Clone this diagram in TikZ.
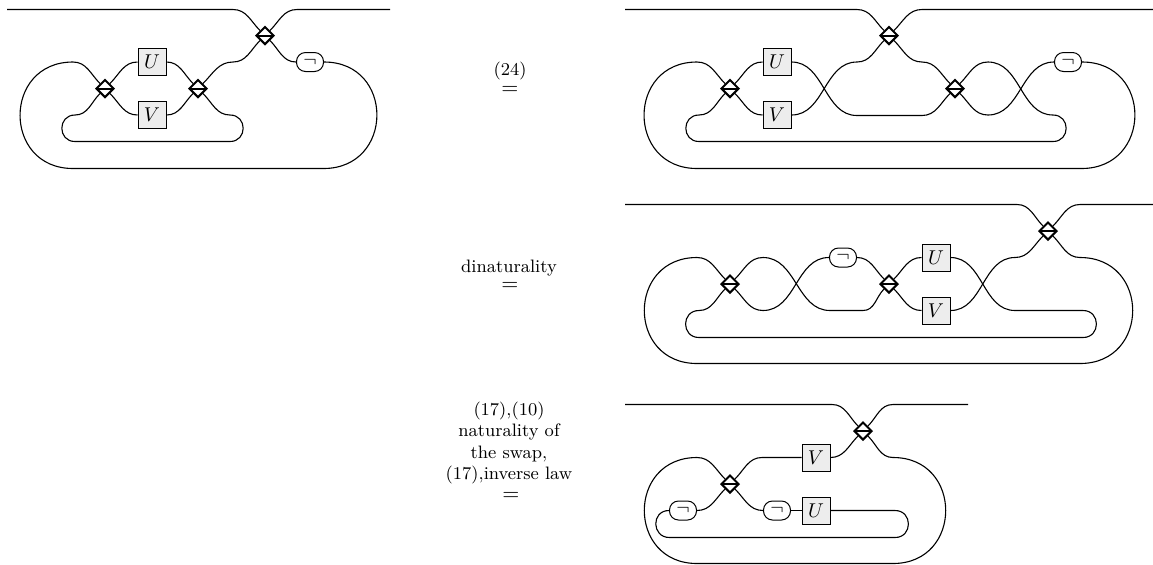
\documentclass[tikz,border=0pt]{standalone}
\usetikzlibrary{shapes.geometric}
\tikzset{
  wire/.style={line width=0.55pt},
  dia/.style={diamond, draw, fill=white, line width=1pt, minimum width=9pt, minimum height=9pt, inner sep=0pt,
    path picture={\draw[line width=1pt] (path picture bounding box.west) -- (path picture bounding box.east);}},
  gbox/.style={draw, fill=black!7, line width=0.5pt, minimum width=14pt, minimum height=13.5pt, inner sep=0pt, font=\fontsize{10}{12}\selectfont},
  negn/.style={draw, fill=white, line width=0.5pt, rounded corners=4.5pt, minimum width=13.5pt, minimum height=9.5pt, inner sep=0pt, font=\fontsize{10}{12}\selectfont},
  eqn/.style={font=\fontsize{10.5}{12}\selectfont, inner sep=0pt},
  lbl/.style={font=\fontsize{9}{10.8}\selectfont, align=center, inner sep=0pt},
  semi/.style={looseness=1.7}
}
\begin{document}
\begin{tikzpicture}[x=0.5pt,y=0.5pt]
\useasboundingbox (0,0) rectangle (1153,-564);

% ---------------- Diagram 1 ----------------
\node[dia] (a1) at (265,-35.5) {};
\node[dia] (a2) at (105,-88.5) {};
\node[dia] (a3) at (198,-88.5) {};
\node[gbox] (u1) at (152,-62) {$U$};
\node[gbox] (v1) at (152,-115) {$V$};
\node[negn] (n1) at (310,-62) {$\neg$};
\coordinate (a1tl) at (7,-9.5);
\coordinate (a1tm) at (233,-9.5);
\coordinate (a1tr) at (297,-9.5);
\coordinate (a1te) at (390,-9.5);
\coordinate (a1m) at (233,-62);
\coordinate (a1i) at (230,-115);
\coordinate (a1ib) at (230,-141.5);
\coordinate (a1ibl) at (75,-141.5);
\coordinate (a1il) at (75,-115);
\coordinate (a1obr) at (323.5,-168.5);
\coordinate (a1obl) at (73,-168.5);
\coordinate (a1otl) at (73,-62);
\draw[wire] (a1tl) -- (a1tm) to[out=0,in=135] (a1);
\draw[wire] (a1) to[out=45,in=180] (a1tr) -- (a1te);
\draw[wire] (a1) to[out=-45,in=180] (n1.west);
\draw[wire] (n1.east) to[out=0,in=0,semi] (a1obr) -- (a1obl) to[out=180,in=180,semi] (a1otl) to[out=0,in=135] (a2);
\draw[wire] (a2) to[out=45,in=180] (u1.west);
\draw[wire] (a2) to[out=-45,in=180] (v1.west);
\draw[wire] (u1.east) to[out=0,in=135] (a3);
\draw[wire] (v1.east) to[out=0,in=-135] (a3);
\draw[wire] (a3) to[out=45,in=180] (a1m) to[out=0,in=-135] (a1);
\draw[wire] (a3) to[out=-45,in=180] (a1i) to[out=0,in=0,semi] (a1ib) -- (a1ibl) to[out=180,in=180,semi] (a1il) to[out=0,in=-135] (a2);

% ---------------- Diagram 2 ----------------
\node[dia] (b1) at (889,-35.5) {};
\node[dia] (b2) at (730,-88.5) {};
\node[dia] (b3) at (955,-88.5) {};
\node[gbox] (u2) at (777,-62) {$U$};
\node[gbox] (v2) at (777,-115) {$V$};
\node[negn] (n2) at (1068,-62) {$\neg$};
\coordinate (b2tl) at (625,-9.5);
\coordinate (b2tm) at (857,-9.5);
\coordinate (b2tr) at (922,-9.5);
\coordinate (b2te) at (1153,-9.5);
\coordinate (b2m1) at (922,-62);
\coordinate (b2ul) at (857,-115.5);
\coordinate (b2ur) at (922,-115.5);
\coordinate (b2vm) at (857,-62);
\coordinate (b2cu) at (988,-62);
\coordinate (b2cd) at (988,-115);
\coordinate (b2ir) at (1053,-115);
\coordinate (b2irb) at (1053,-141.5);
\coordinate (b2ilb) at (699,-141.5);
\coordinate (b2il) at (699,-115);
\coordinate (b2obr) at (1081.5,-168.5);
\coordinate (b2obl) at (697,-168.5);
\coordinate (b2otl) at (697,-62);
\draw[wire] (b2tl) -- (b2tm) to[out=0,in=135] (b1);
\draw[wire] (b1) to[out=45,in=180] (b2tr) -- (b2te);
\draw[wire] (b1) to[out=-45,in=180] (b2m1) to[out=0,in=135] (b3);
\draw[wire] (b2) to[out=45,in=180] (u2.west);
\draw[wire] (b2) to[out=-45,in=180] (v2.west);
\draw[wire] (u2.east) to[out=0,in=180] (b2ul) -- (b2ur) to[out=0,in=-135] (b3);
\draw[wire] (v2.east) to[out=0,in=180] (b2vm) to[out=0,in=-135] (b1);
\draw[wire] (b3) to[out=45,in=180] (b2cu) to[out=0,in=180] (b2ir) to[out=0,in=0,semi] (b2irb) -- (b2ilb) to[out=180,in=180,semi] (b2il) to[out=0,in=-135] (b2);
\draw[wire] (b3) to[out=-45,in=180] (b2cd) to[out=0,in=180] (n2.west);
\draw[wire] (n2.east) to[out=0,in=0,semi] (b2obr) -- (b2obl) to[out=180,in=180,semi] (b2otl) to[out=0,in=135] (b2);

% ---------------- Diagram 3 ----------------
\node[dia] (c1) at (1048,-231) {};
\node[dia] (c2) at (730,-284) {};
\node[dia] (c3) at (889,-284) {};
\node[negn] (n3) at (843,-257.5) {$\neg$};
\node[gbox] (u3) at (936,-257.5) {$U$};
\node[gbox] (v3) at (936,-310.5) {$V$};
\coordinate (c3tl) at (625,-204.5);
\coordinate (c3tm) at (1017,-204.5);
\coordinate (c3tr) at (1080,-204.5);
\coordinate (c3te) at (1153,-204.5);
\coordinate (c3or) at (1080,-257.5);
\coordinate (c3obr) at (1080,-363.5);
\coordinate (c3obl) at (697,-363.5);
\coordinate (c3otl) at (697,-257.5);
\coordinate (c3a) at (763,-257.5);
\coordinate (c3b) at (830,-310.5);
\coordinate (c3c) at (863,-310.5);
\coordinate (c3d) at (763,-310.5);
\coordinate (c3ui) at (1015,-310.5);
\coordinate (c3ir) at (1083,-310.5);
\coordinate (c3irb) at (1083,-337.5);
\coordinate (c3ilb) at (699,-337.5);
\coordinate (c3il) at (699,-310.5);
\coordinate (c3vm) at (1015,-257.5);
\draw[wire] (c3tl) -- (c3tm) to[out=0,in=135] (c1);
\draw[wire] (c1) to[out=45,in=180] (c3tr) -- (c3te);
\draw[wire] (c1) to[out=-45,in=180] (c3or) to[out=0,in=0,semi] (c3obr) -- (c3obl) to[out=180,in=180,semi] (c3otl) to[out=0,in=135] (c2);
\draw[wire] (c2) to[out=45,in=180] (c3a) to[out=0,in=180] (c3b) -- (c3c) to[out=0,in=-135] (c3);
\draw[wire] (c2) to[out=-45,in=180] (c3d) to[out=0,in=180] (n3.west);
\draw[wire] (n3.east) to[out=0,in=135] (c3);
\draw[wire] (c3) to[out=45,in=180] (u3.west);
\draw[wire] (c3) to[out=-45,in=180] (v3.west);
\draw[wire] (u3.east) to[out=0,in=180] (c3ui) -- (c3ir) to[out=0,in=0,semi] (c3irb) -- (c3ilb) to[out=180,in=180,semi] (c3il) to[out=0,in=-135] (c2);
\draw[wire] (v3.east) to[out=0,in=180] (c3vm) to[out=0,in=-135] (c1);

% ---------------- Diagram 4 ----------------
\node[dia] (e1) at (863,-431) {};
\node[dia] (e2) at (730,-484) {};
\node[gbox] (v4) at (816,-457.5) {$V$};
\node[gbox] (u4) at (816,-510.5) {$U$};
\node[negn] (n4a) at (683,-510.5) {$\neg$};
\node[negn] (n4b) at (777,-510.5) {$\neg$};
\coordinate (e4tl) at (625,-404.5);
\coordinate (e4tm) at (832,-404.5);
\coordinate (e4tr) at (893,-404.5);
\coordinate (e4te) at (968,-404.5);
\coordinate (e4or) at (893,-457.5);
\coordinate (e4obr) at (893,-563.5);
\coordinate (e4obl) at (697,-563.5);
\coordinate (e4otl) at (697,-457.5);
\coordinate (e4a) at (762,-457.5);
\coordinate (e4ir) at (895,-510.5);
\coordinate (e4irb) at (895,-537.5);
\coordinate (e4ilb) at (669.5,-537.5);
\draw[wire] (e4tl) -- (e4tm) to[out=0,in=135] (e1);
\draw[wire] (e1) to[out=45,in=180] (e4tr) -- (e4te);
\draw[wire] (e1) to[out=-45,in=180] (e4or) to[out=0,in=0,semi] (e4obr) -- (e4obl) to[out=180,in=180,semi] (e4otl) to[out=0,in=135] (e2);
\draw[wire] (e2) to[out=45,in=180] (e4a) -- (v4.west);
\draw[wire] (v4.east) to[out=0,in=-135] (e1);
\draw[wire] (n4a.east) to[out=0,in=-135] (e2);
\draw[wire] (e2) to[out=-45,in=180] (n4b.west);
\draw[wire] (n4b.east) -- (u4.west);
\draw[wire] (u4.east) -- (e4ir) to[out=0,in=0,semi] (e4irb) -- (e4ilb) to[out=180,in=180,semi] (n4a.west);

% ---------------- Labels ----------------
\node[eqn] (q1) at (510,-90) {$=$};
\node[lbl, anchor=base] (l1) at (510,-75) {(24)};
\node[eqn] (q2) at (510,-286.5) {$=$};
\node[lbl, anchor=base] (l2) at (509,-272) {dinaturality};
\node[eqn] (q3) at (511,-496) {$=$};
\node[lbl] (l3) at (509,-443) {(17),(10)\\naturality of\\the swap,\\(17),inverse law};
\end{tikzpicture}
\end{document}
